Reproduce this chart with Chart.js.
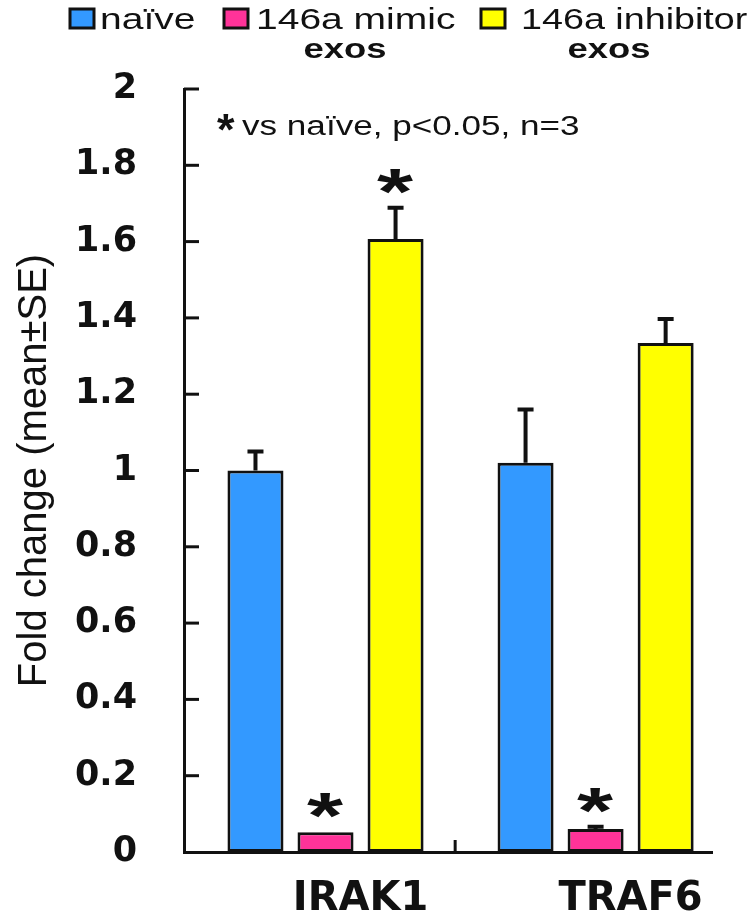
<!DOCTYPE html>
<html>
<head>
<meta charset="utf-8">
<script src="https://cdn.jsdelivr.net/npm/chart.js@4.4.1/dist/chart.umd.min.js"></script>
<style>
  body { margin: 0; background: #fff; }
</style>
</head>
<body>
<canvas id="myChart" width="753" height="919"></canvas>
<script>
/** data */
const categories = ['IRAK1', 'TRAF6'];
const seriesNames = ['naïve', '146a mimic', '146a inhibitor'];
const seriesSubNames = ['', 'exos', 'exos'];
const naiveValues = [1.0, 1.02];
const naiveErrors = [0.05, 0.14];
const mimicValues = [0.052, 0.06];
const mimicErrors = [0, 0.006];
const inhibitorValues = [1.607, 1.334];
const inhibitorErrors = [0.082, 0.063];
const naiveStars = [false, false];
const mimicStars = [true, true];
const inhibitorStars = [true, false];
const yTickLabels = ['0', '0.2', '0.4', '0.6', '0.8', '1', '1.2', '1.4', '1.6', '1.8', '2'];
const noteText = 'vs naïve, p<0.05, n=3';
const yTitle = 'Fold change (mean±SE)';

const colors = ['#3399ff', '#ff3399', '#ffff00'];
const values = [naiveValues, mimicValues, inhibitorValues];
const errors = [naiveErrors, mimicErrors, inhibitorErrors];
const stars = [naiveStars, mimicStars, inhibitorStars];

const SANS = '"Liberation Sans", Arial, sans-serif';
const INK = '#111';

function stretchText(ctx, text, x, y, font, align, sx) {
  ctx.save();
  ctx.font = font;
  ctx.fillStyle = INK;
  ctx.textAlign = align;
  ctx.textBaseline = 'alphabetic';
  ctx.translate(x, y);
  ctx.scale(sx, 1);
  ctx.fillText(text, 0, 0);
  ctx.restore();
}

// asterisk fitted into a w x h box centred on (x, yc)
function drawStar(ctx, x, yc, w, h) {
  ctx.save();
  ctx.font = 'bold 60px ' + SANS;
  ctx.fillStyle = INK;
  ctx.textAlign = 'left';
  ctx.textBaseline = 'alphabetic';
  const m = ctx.measureText('*');
  const gw = m.actualBoundingBoxLeft + m.actualBoundingBoxRight;
  const gh = m.actualBoundingBoxAscent + m.actualBoundingBoxDescent;
  ctx.translate(x, yc);
  ctx.scale(w / gw, h / gh);
  ctx.fillText('*', (m.actualBoundingBoxLeft - m.actualBoundingBoxRight) / 2,
    (m.actualBoundingBoxAscent - m.actualBoundingBoxDescent) / 2);
  ctx.restore();
}

const extrasPlugin = {
  id: 'extras',
  afterDatasetsDraw(chart) {
    const ctx = chart.ctx;
    const yScale = chart.scales.y;
    ctx.save();
    ctx.strokeStyle = INK;
    ctx.lineWidth = 4;
    values.forEach((vals, d) => {
      const meta = chart.getDatasetMeta(d);
      meta.data.forEach((bar, i) => {
        const top = yScale.getPixelForValue(vals[i] + errors[d][i]);
        if (errors[d][i] > 0) {
          ctx.beginPath();
          ctx.moveTo(bar.x, bar.y);
          ctx.lineTo(bar.x, top);
          ctx.moveTo(bar.x - 8, top);
          ctx.lineTo(bar.x + 8, top);
          ctx.stroke();
        }
        if (stars[d][i]) {
          drawStar(ctx, bar.x, top - 26, 37, 25);
        }
      });
    });
    ctx.restore();
  },
  afterDraw(chart) {
    const ctx = chart.ctx;
    const { left, bottom } = chart.chartArea;
    const yScale = chart.scales.y;
    const xScale = chart.scales.x;

    // inward tick marks
    ctx.save();
    ctx.strokeStyle = INK;
    ctx.lineWidth = 3;
    yScale.ticks.forEach((t) => {
      if (t.value === 0) return;
      const py = yScale.getPixelForValue(t.value);
      ctx.beginPath();
      ctx.moveTo(left, py);
      ctx.lineTo(left + 15, py);
      ctx.stroke();
    });
    const mid = xScale.getPixelForValue(0.48);
    ctx.beginPath();
    ctx.moveTo(mid, bottom);
    ctx.lineTo(mid, bottom - 12);
    ctx.stroke();
    ctx.restore();

    // legend
    const boxX = [70, 224, 481];
    const textX = [100, 256, 521];
    const subX = [0, 345, 609];
    const fontSize = [30, 30, 29];
    seriesNames.forEach((name, i) => {
      ctx.save();
      ctx.fillStyle = colors[i];
      ctx.strokeStyle = INK;
      ctx.lineWidth = 3;
      ctx.beginPath();
      ctx.rect(boxX[i], 9, 24, 19);
      ctx.fill();
      ctx.stroke();
      ctx.restore();
      stretchText(ctx, name, textX[i], 29, fontSize[i] + 'px ' + SANS, 'left', 1.3);
      if (seriesSubNames[i]) {
        stretchText(ctx, seriesSubNames[i], subX[i], 58, 'bold 28px ' + SANS, 'center', 1.3);
      }
    });

    // significance note
    drawStar(ctx, 226, 123, 18, 17);
    stretchText(ctx, noteText, 242, 135, '27px ' + SANS, 'left', 1.3);

    // y axis title
    ctx.save();
    ctx.translate(46, (chart.chartArea.top + bottom) / 2);
    ctx.rotate(-Math.PI / 2);
    ctx.font = '40px ' + SANS;
    ctx.fillStyle = INK;
    ctx.textAlign = 'center';
    ctx.textBaseline = 'alphabetic';
    ctx.fillText(yTitle, 0, 0);
    ctx.restore();
  },
};

const chartDatasets = seriesNames.map((name, d) => ({
  label: name,
  data: categories.map((c, i) => ({ x: i, y: values[d][i] })),
  backgroundColor: colors[d],
  borderColor: INK,
  borderWidth: 3,
  borderSkipped: false,
  categoryPercentage: 0.778,
  barPercentage: 0.8,
}));

const myChart = new Chart(document.getElementById('myChart'), {
  type: 'bar',
  data: { datasets: chartDatasets },
  options: {
    responsive: false,
    animation: false,
    layout: {
      padding: { top: 89, right: 41, left: 0, bottom: 0 },
    },
    plugins: {
      legend: { display: false },
      tooltip: { enabled: false },
    },
    scales: {
      x: {
        type: 'linear',
        offset: false,
        min: -0.524,
        max: 1.431,
        grid: { display: false, offset: false },
        border: { display: true, color: INK, width: 3 },
        afterBuildTicks: (axis) => {
          axis.ticks = categories.map((c, i) => ({ value: i }));
        },
        afterFit: (scale) => {
          scale.height = 67;
        },
        ticks: {
          callback: (value, index) => categories[index],
          labelOffset: 35,
          padding: 16,
          autoSkip: false,
          maxRotation: 0,
          color: INK,
          font: { family: 'DejaVu Sans', weight: 'bold', size: 40 },
        },
      },
      y: {
        min: 0,
        max: 2,
        grid: { display: false },
        border: { display: true, color: INK, width: 3 },
        afterBuildTicks: (axis) => {
          axis.ticks = yTickLabels.map((t) => ({ value: parseFloat(t) }));
        },
        afterFit: (scale) => {
          scale.width = 184;
        },
        ticks: {
          callback: (value, index) => yTickLabels[index],
          padding: 39,
          color: INK,
          font: { family: 'DejaVu Sans', weight: 'bold', size: 35 },
        },
      },
    },
  },
  plugins: [extrasPlugin],
});
</script>
</body>
</html>
